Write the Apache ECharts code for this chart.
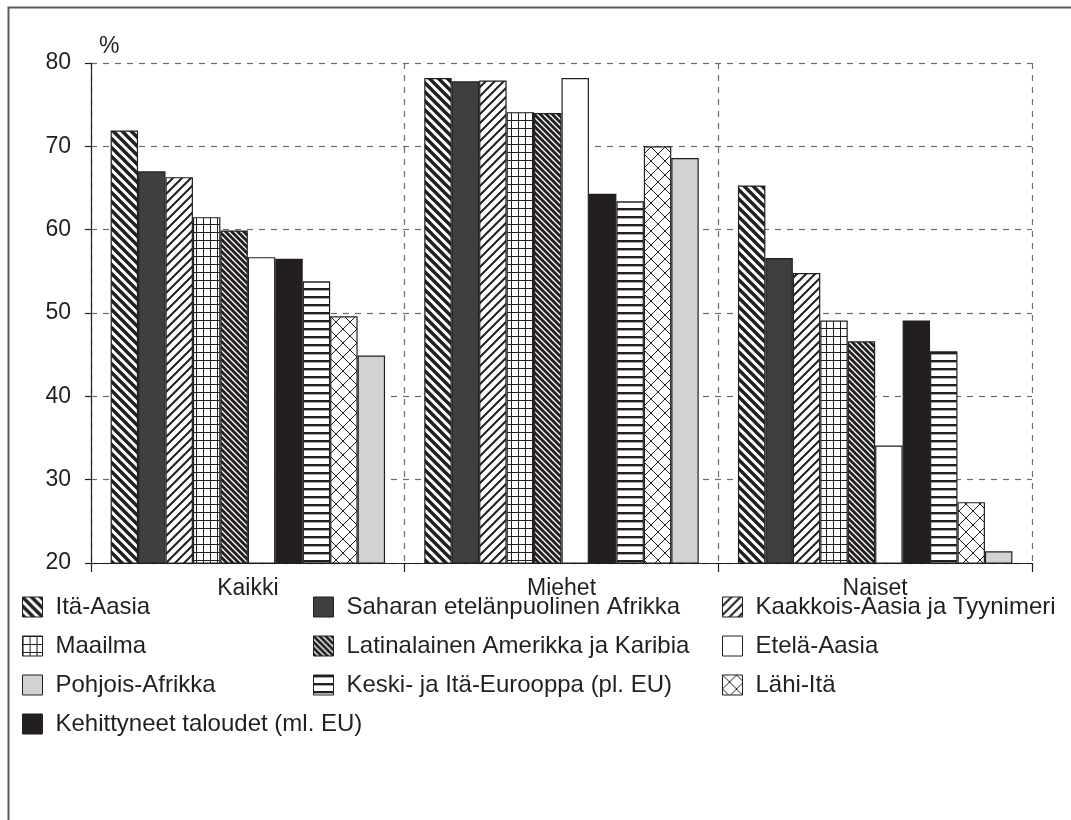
<!DOCTYPE html>
<html>
<head>
<meta charset="utf-8">
<script src="https://cdn.jsdelivr.net/npm/echarts@6/dist/echarts.min.js"></script>
<style>
html,body{margin:0;padding:0;background:#fff;}
#chart{width:1071px;height:820px;}
</style>
</head>
<body>
<div id="chart"></div>
<script>
// ---- data ----
const categories = ['Kaikki', 'Miehet', 'Naiset'];
const itaAasia = [71.9, 78.2, 65.3];
const saharan = [67.0, 77.8, 56.6];
const kaakkois = [66.3, 77.9, 54.8];
const maailma = [61.5, 74.1, 49.1];
const latinalainen = [59.9, 74.0, 46.6];
const etelaAasia = [56.7, 78.2, 34.1];
const kehittyneet = [56.5, 64.3, 49.1];
const keskiIta = [53.8, 63.4, 45.4];
const lahiIta = [49.6, 70.0, 27.3];
const pohjoisAfrikka = [44.9, 68.6, 21.4];
const yTicks = [20, 30, 40, 50, 60, 70, 80];

const INK = '#231f20';
const FONT = 'Liberation Sans, Arial, Helvetica, sans-serif';

// ---- patterns ----
function tile(w, h, draw) {
  const c = document.createElement('canvas');
  c.width = w; c.height = h;
  const g = c.getContext('2d');
  g.fillStyle = '#fff';
  g.fillRect(0, 0, w, h);
  g.strokeStyle = INK;
  g.fillStyle = INK;
  draw(g, w, h);
  return { image: c, repeat: 'repeat' };
}
function diag(size, lw, back) {
  return tile(size, size, (g, s) => {
    g.lineWidth = lw;
    g.beginPath();
    for (const k of [-s, 0, s]) {
      if (back) { g.moveTo(k - 2, -2); g.lineTo(k + s + 2, s + 2); }
      else { g.moveTo(k - 2, s + 2); g.lineTo(k + s + 2, -2); }
    }
    g.stroke();
  });
}
const patItaAasia = diag(9, 3.4, true);
const patKaakkois = diag(9, 2.0, false);
const patLatin = diag(6, 2.9, true);
const patMaailma = tile(7, 8, (g, w, h) => {
  g.fillRect(0, 0, 1, h);
  g.fillRect(0, 0, w, 1);
});
const patKeski = tile(8, 8, (g, w, h) => {
  g.fillRect(0, 0, w, 2.4);
});
const patLahi = tile(14, 14, (g, s) => {
  g.lineWidth = 1;
  g.beginPath();
  for (const k of [-s, 0, s]) {
    g.moveTo(k - 1, -1); g.lineTo(k + s + 1, s + 1);
    g.moveTo(k - 1, s + 1); g.lineTo(k + s + 1, -1);
  }
  g.stroke();
});

const seriesDefs = [
  ['Itä-Aasia', itaAasia, patItaAasia],
  ['Saharan etelänpuolinen Afrikka', saharan, '#3f3f40'],
  ['Kaakkois-Aasia ja Tyynimeri', kaakkois, patKaakkois],
  ['Maailma', maailma, patMaailma],
  ['Latinalainen Amerikka ja Karibia', latinalainen, patLatin],
  ['Etelä-Aasia', etelaAasia, '#ffffff'],
  ['Kehittyneet taloudet (ml. EU)', kehittyneet, INK],
  ['Keski- ja Itä-Eurooppa (pl. EU)', keskiIta, patKeski],
  ['Lähi-Itä', lahiIta, patLahi],
  ['Pohjois-Afrikka', pohjoisAfrikka, '#d1d2d4']
];

const series = seriesDefs.map(([name, data, color]) => ({
  name, type: 'bar', data,
  barGap: '0%', barCategoryGap: '12.5%',
  itemStyle: { color, borderColor: INK, borderWidth: 1.2 },
  emphasis: { disabled: true },
  animation: false
}));

const legendBase = {
  orient: 'vertical',
  selectedMode: false,
  icon: 'rect',
  padding: 0,
  itemWidth: 20, itemHeight: 20,
  itemGap: 15,
  top: 595,
  itemStyle: { borderColor: INK, borderWidth: 1 },
  textStyle: { fontFamily: FONT, fontSize: 24, color: INK, padding: [0, 0, 0, 8] }
};

const chart = echarts.init(document.getElementById('chart'), null, { renderer: 'canvas', width: 1071, height: 820 });
chart.setOption({
  backgroundColor: '#fff',
  animation: false,
  textStyle: { fontFamily: FONT },
  graphic: [{
    type: 'rect', left: 6, top: 5, silent: true, z: -10,
    shape: { width: 1200, height: 1000 },
    style: { fill: 'none', stroke: '#5a5a5a', lineWidth: 2 }
  }],
  legend: [
    Object.assign({}, legendBase, { left: 22, data: ['Itä-Aasia', 'Maailma', 'Pohjois-Afrikka', 'Kehittyneet taloudet (ml. EU)'] }),
    Object.assign({}, legendBase, { left: 313, data: ['Saharan etelänpuolinen Afrikka', 'Latinalainen Amerikka ja Karibia', 'Keski- ja Itä-Eurooppa (pl. EU)'] }),
    Object.assign({}, legendBase, { left: 722, data: ['Kaakkois-Aasia ja Tyynimeri', 'Etelä-Aasia', 'Lähi-Itä'] })
  ],
  grid: { left: 91, right: 39, top: 63, bottom: 257, containLabel: false },
  xAxis: {
    type: 'category', data: categories,
    axisLine: { lineStyle: { color: INK, width: 1.2 } },
    axisTick: { show: true, length: 9, lineStyle: { color: INK, width: 1.2 } },
    axisLabel: { fontSize: 23, color: INK, margin: 14 },
    splitLine: { show: true, lineStyle: { type: [6, 6], color: '#6d6e70', width: 1.2 } }
  },
  yAxis: {
    type: 'value', min: yTicks[0], max: yTicks[yTicks.length - 1], interval: 10,
    name: '%', nameLocation: 'end', nameGap: 5,
    nameTextStyle: { fontSize: 23, color: INK, align: 'left', padding: [0, 0, 0, 8] },
    axisLine: { show: true, lineStyle: { color: INK, width: 1.2 } },
    axisTick: { show: true, length: 6, lineStyle: { color: INK, width: 1.2 } },
    axisLabel: { fontSize: 23, color: INK, margin: 20 },
    splitLine: { show: true, lineStyle: { type: [6, 6], color: '#6d6e70', width: 1.2 } }
  },
  series
});
</script>
</body>
</html>
